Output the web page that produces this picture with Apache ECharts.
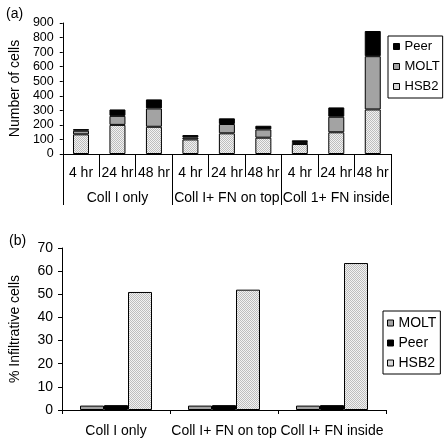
<!DOCTYPE html>
<html><head><meta charset="utf-8">
<script src="https://cdn.jsdelivr.net/npm/echarts@6/dist/echarts.min.js"></script>
<style>html,body{margin:0;padding:0;background:#fff}#c{width:446px;height:438px}</style>
</head><body><div id="c"></div>
<script>
// Panel (a) data
const hourLabels = ['4 hr','24 hr','48 hr','4 hr','24 hr','48 hr','4 hr','24 hr','48 hr'];
const groupsA = ['Coll I only','Coll I+ FN on top','Coll 1+ FN inside'];
const hsb2A = [135,200,187,100,142,112,69,149,306];
const moltA = [25,62,126,14,64,57,13,107,366];
const peerA = [11,44,62,16,39,25,12,64,173];
// Panel (b) data
const groupsB = ['Coll I only','Coll I+ FN on top','Coll I+ FN inside'];
const moltB = [1.9,1.9,1.9];
const peerB = [2.1,2.1,2.1];
const hsb2B = [51,52,63.5];

function makePattern(){
  const c=document.createElement('canvas'); c.width=4; c.height=4;
  const g=c.getContext('2d'); g.fillStyle='#f2f2f2'; g.fillRect(0,0,4,4);
  g.fillStyle='#bdbdbd';
  for(let y=0;y<4;y++)for(let x=0;x<4;x++) if((x+y)%2===0) g.fillRect(x,y,1,1);
  return c;
}
const hsbFill = {image: makePattern(), repeat:'repeat'};
const grayFill = '#a3a3a3';
const FONT = 'Liberation Sans, Arial, Helvetica, sans-serif';
const blk = {color:'#000', width:1};

const chart = echarts.init(document.getElementById('c'), null, {renderer:'canvas'});
const itemB = (c)=>({color:c, borderColor:'#000', borderWidth:1});

chart.setOption({
  animation:false,
  textStyle:{fontFamily:FONT, color:'#000'},
  title:[
    {text:'(a)', left:1, top:2, textStyle:{fontSize:14, fontWeight:'normal', color:'#000', fontFamily:FONT}},
    {text:'(b)', left:4, top:229, textStyle:{fontSize:14, fontWeight:'normal', color:'#000', fontFamily:FONT}}
  ],
  grid:[
    {left:53, top:23, width:338, height:131},
    {left:59, top:248, width:327, height:162}
  ],
  legend:[
    {orient:'vertical', left:388, top:36, data:['Peer','MOLT','HSB2'],
     itemWidth:6, itemHeight:6, itemGap:7, padding:[4,3,5,5],
     borderColor:'#000', borderWidth:1, backgroundColor:'#fff', icon:'rect',
     itemStyle:{borderColor:'#000', borderWidth:1},
     textStyle:{fontSize:13, color:'#000', fontFamily:FONT}, selectedMode:false},
    {orient:'vertical', left:383, top:311, data:['MOLT','Peer','HSB2'],
     itemWidth:6, itemHeight:6, itemGap:6, padding:[5,4,4,4],
     borderColor:'#000', borderWidth:1, backgroundColor:'#fff', icon:'rect',
     itemStyle:{borderColor:'#000', borderWidth:1},
     textStyle:{fontSize:14, color:'#000', fontFamily:FONT}, selectedMode:false}
  ],
  xAxis:[
    {gridIndex:0, type:'category', data:hourLabels, position:'bottom',
     axisLine:{lineStyle:blk}, axisTick:{show:true, length:23, interval:0, lineStyle:blk},
     axisLabel:{color:'#000', fontSize:14, margin:12, interval:0, fontFamily:FONT}},
    {gridIndex:0, type:'category', data:groupsA, position:'bottom',
     axisLine:{show:false}, axisTick:{show:true, length:51, interval:0, lineStyle:blk},
     axisLabel:{color:'#000', fontSize:14, margin:37, interval:0, fontFamily:FONT}},
    {gridIndex:1, type:'category', data:groupsB,
     axisLine:{lineStyle:blk}, axisTick:{show:true, length:4, interval:0, lineStyle:blk},
     axisLabel:{color:'#000', fontSize:14, margin:14, interval:0, fontFamily:FONT}}
  ],
  yAxis:[
    {gridIndex:0, type:'value', min:0, max:900, interval:100,
     axisLine:{show:true, lineStyle:blk}, axisTick:{show:true, length:3, lineStyle:blk},
     splitLine:{show:false}, axisLabel:{color:'#000', fontSize:12.5, margin:9, fontFamily:FONT},
     name:'Number of cells', nameLocation:'middle', nameGap:34,
     nameTextStyle:{fontSize:14, color:'#000', fontFamily:FONT}},
    {gridIndex:1, type:'value', min:0, max:70, interval:10,
     axisLine:{show:true, lineStyle:blk}, axisTick:{show:true, length:4, lineStyle:blk},
     splitLine:{show:false}, axisLabel:{color:'#000', fontSize:14, margin:9, fontFamily:FONT},
     name:'% Infiltrative cells', nameLocation:'middle', nameGap:40,
     nameTextStyle:{fontSize:14, color:'#000', fontFamily:FONT}}
  ],
  series:[
    {type:'bar', name:'HSB2', stack:'a', xAxisIndex:0, yAxisIndex:0, data:hsb2A, barWidth:16, itemStyle:itemB(hsbFill)},
    {type:'bar', name:'MOLT', stack:'a', xAxisIndex:0, yAxisIndex:0, data:moltA, barWidth:16, itemStyle:itemB(grayFill)},
    {type:'bar', name:'Peer', stack:'a', xAxisIndex:0, yAxisIndex:0, data:peerA, barWidth:16, itemStyle:itemB('#000')},
    {type:'bar', name:'MOLT', xAxisIndex:2, yAxisIndex:1, data:moltB, barWidth:24, barGap:'0%', itemStyle:itemB(grayFill)},
    {type:'bar', name:'Peer', xAxisIndex:2, yAxisIndex:1, data:peerB, barWidth:24, barGap:'0%', itemStyle:itemB('#000')},
    {type:'bar', name:'HSB2', xAxisIndex:2, yAxisIndex:1, data:hsb2B, barWidth:24, barGap:'0%', itemStyle:itemB(hsbFill)}
  ]
});
</script></body></html>
